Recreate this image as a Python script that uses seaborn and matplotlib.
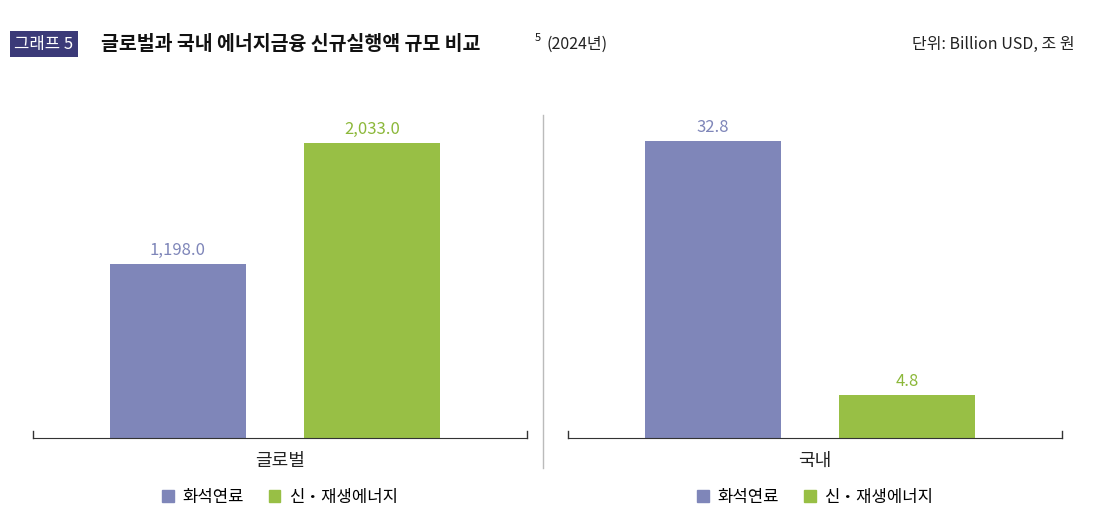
import pandas as pd
import matplotlib.pyplot as plt
import seaborn as sns
from matplotlib.patches import Patch

plt.rcParams['font.family'] = ['Noto Sans CJK KR', 'Noto Sans CJK JP', 'Noto Sans CJK SC',
                               'Noto Sans CJK TC', 'DejaVu Sans']

series = ['화석연료', '신・재생에너지']
global_vals = [1198.0, 2033.0]
domestic_vals = [32.8, 4.8]
panels = ['글로벌', '국내']
value_labels = [['1,198.0', '2,033.0'], ['32.8', '4.8']]
colors = ['#7f86b9', '#98bf45']
text_colors = ['#7f86b9', '#8cb83a']

fig = plt.figure(figsize=(10.99, 5.26), dpi=100)

ax_pos = [[0.030, 0.167, 0.4495, 0.643], [0.517, 0.167, 0.4495, 0.643]]
ymax = [2330, 37.3]
for i, vals in enumerate([global_vals, domestic_vals]):
    ax = fig.add_axes(ax_pos[i])
    df = pd.DataFrame({'series': series, 'value': vals})
    sns.barplot(data=df, x='series', y='value', hue='series', palette=colors,
                ax=ax, width=0.70, legend=False, saturation=1)
    ax.set_xlim(-0.747, 1.8)
    ax.set_ylim(0, ymax[i])
    for j, p in enumerate(ax.patches):
        ax.text(p.get_x() + p.get_width() / 2, p.get_height() + ymax[i] * 0.015,
                value_labels[i][j], ha='center', va='bottom', fontsize=12,
                color=text_colors[j])
    for s in ['top', 'left', 'right']:
        ax.spines[s].set_visible(False)
    ax.spines['bottom'].set_color('#333333')
    ax.set_xticks([])
    ax.set_yticks([])
    ax.set_xlabel('')
    ax.set_ylabel('')
    ax.plot([0, 0], [0, 0.02], transform=ax.transAxes, color='#333333', lw=1, clip_on=False)
    ax.plot([1, 1], [0, 0.02], transform=ax.transAxes, color='#333333', lw=1, clip_on=False)
    ax.text(0.5, -0.04, panels[i], transform=ax.transAxes, ha='center', va='top',
            fontsize=13, color='#222222')
    handles = [Patch(color=c, label=s) for c, s in zip(colors, series)]
    fig.legend(handles=handles, loc='center',
               bbox_to_anchor=(ax_pos[i][0] + ax_pos[i][2] / 2, 0.055),
               ncol=2, frameon=False, fontsize=12, handlelength=0.7, handleheight=0.7,
               columnspacing=1.5, handletextpad=0.5)

# divider
fig.add_artist(plt.Line2D([543 / 1099, 543 / 1099], [1 - 468 / 526, 1 - 115 / 526],
                          color='#bbbbbb', lw=1))

# title
fig.text(0.013, 1 - 44 / 526, '그래프 5', fontsize=12, color='white', va='center',
         bbox=dict(boxstyle='square,pad=0.25', fc='#3b3a78', ec='none'))
fig.text(0.092, 1 - 44 / 526, '글로벌과 국내 에너지금융 신규실행액 규모 비교', fontsize=14,
         fontweight='bold', color='#111111', va='center')
fig.text(535 / 1099, 1 - 38 / 526, '5', fontsize=8, color='#111111', va='center')
fig.text(546 / 1099, 1 - 44 / 526, '(2024년)', fontsize=11.5, color='#222222', va='center')
fig.text(0.978, 1 - 44 / 526, '단위: Billion USD, 조 원', fontsize=11.5, color='#222222',
         va='center', ha='right')

fig.savefig('out.png', dpi=100, facecolor='white')
